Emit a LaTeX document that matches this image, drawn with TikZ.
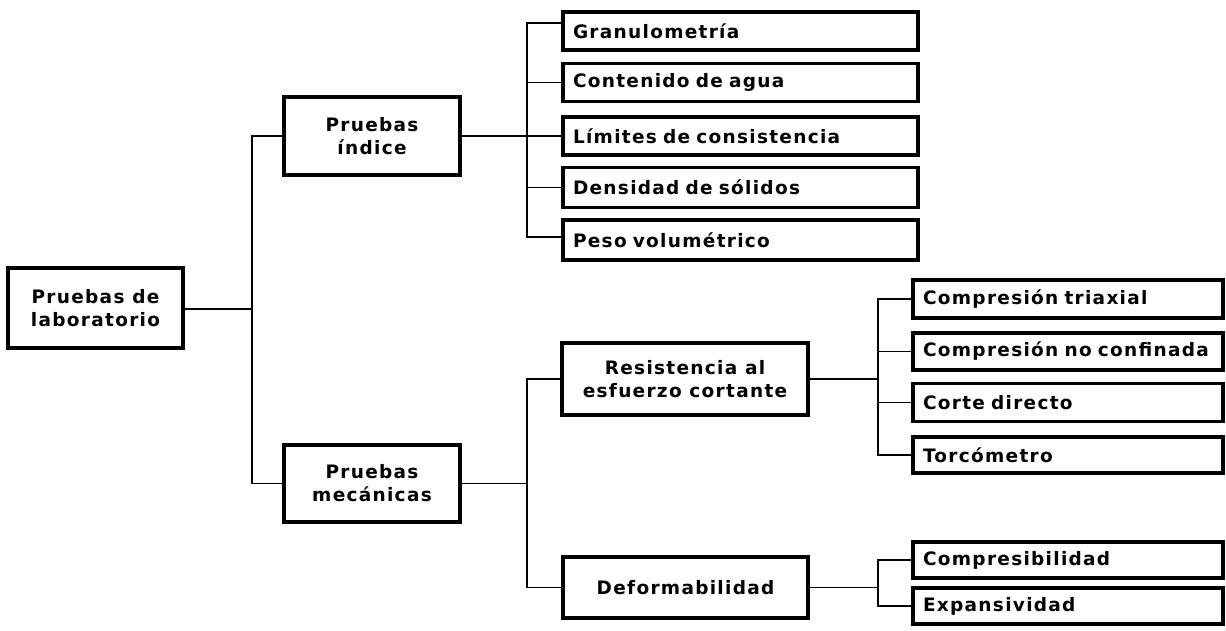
\documentclass[tikz,border=0pt]{standalone}
\usepackage{fontspec}
\setmainfont{DejaVu Sans}[LetterSpace=7]
\begin{document}
\begin{tikzpicture}[x=1pt,y=-1pt,
  box/.style={draw, line width=3.2pt, inner sep=0pt, font=\bfseries\fontsize{18.5}{23}\selectfont},
  bigbox/.style={box, align=center},
  leaf/.style={box, align=left, text width=#1, inner xsep=10pt},
  conn/.style={line width=1.5pt}]
\useasboundingbox (0,0) rectangle (1226,630);
% level 0
\node[bigbox, minimum width=175, minimum height=80] (root) at (95.5,308) {Pruebas de\\laboratorio};
% level 1
\node[bigbox, minimum width=176, minimum height=78] (ind) at (372,136) {Pruebas\\índice};
\node[bigbox, minimum width=176, minimum height=77] (mec) at (372,483.5) {Pruebas\\mecánicas};
% level 2 index leaves
\node[leaf=335, minimum height=38] (gra) at (740.5,31) {Granulometría};
\node[leaf=335, minimum height=38] (con) at (740.5,82.5) {Contenido de agua};
\node[leaf=335, minimum height=38] (lim) at (740.5,136) {Límites de consistencia};
\node[leaf=335, minimum height=40] (den) at (740.5,187.5) {Densidad de sólidos};
\node[leaf=335, minimum height=40] (pes) at (740.5,240) {Peso volumétrico};
% level 2 mechanics
\node[bigbox, minimum width=246, minimum height=72] (res) at (685,379) {Resistencia al\\esfuerzo cortante};
\node[bigbox, minimum width=245, minimum height=61] (def) at (685.5,587.5) {Deformabilidad};
% level 3
\node[leaf=290, minimum height=38] (tri) at (1068,299) {Compresión triaxial};
\node[leaf=290, minimum height=37] (noc) at (1068,351.5) {Compresión no confinada};
\node[leaf=290, minimum height=38] (cor) at (1068,402.5) {Corte directo};
\node[leaf=290, minimum height=36] (tor) at (1068,455) {Torcómetro};
\node[leaf=290, minimum height=36] (cmp) at (1068,560) {Compresibilidad};
\node[leaf=290, minimum height=36] (exp) at (1068,606) {Expansividad};
% junctions
\coordinate (j1) at (252,309);
\coordinate (j2) at (527,136);
\coordinate (j3) at (527,483.5);
\coordinate (j4) at (878,379);
\coordinate (j5) at (878,587.5);
% connectors
\draw[conn] (root.east |- j1) -- (j1);
\draw[conn] (ind.west) -| (j1);
\draw[conn] (mec.west) -| (j1);
\draw[conn] (ind.east) -- (j2);
\draw[conn] ([yshift=8pt]gra.west) -| (j2);
\draw[conn] (con.west) -| (j2);
\draw[conn] (lim.west) -- (j2);
\draw[conn] (den.west) -| (j2);
\draw[conn] ([yshift=3pt]pes.west) -| (j2);
\draw[conn] (mec.east) -- (j3);
\draw[conn] (res.west) -| (j3);
\draw[conn] (def.west) -| (j3);
\draw[conn] (res.east) -- (j4);
\draw[conn] (tri.west) -| (j4);
\draw[conn] (noc.west) -| (j4);
\draw[conn] (cor.west) -| (j4);
\draw[conn] (tor.west) -| (j4);
\draw[conn] (def.east) -- (j5);
\draw[conn] (cmp.west) -| (j5);
\draw[conn] (exp.west) -| (j5);
\end{tikzpicture}
\end{document}
